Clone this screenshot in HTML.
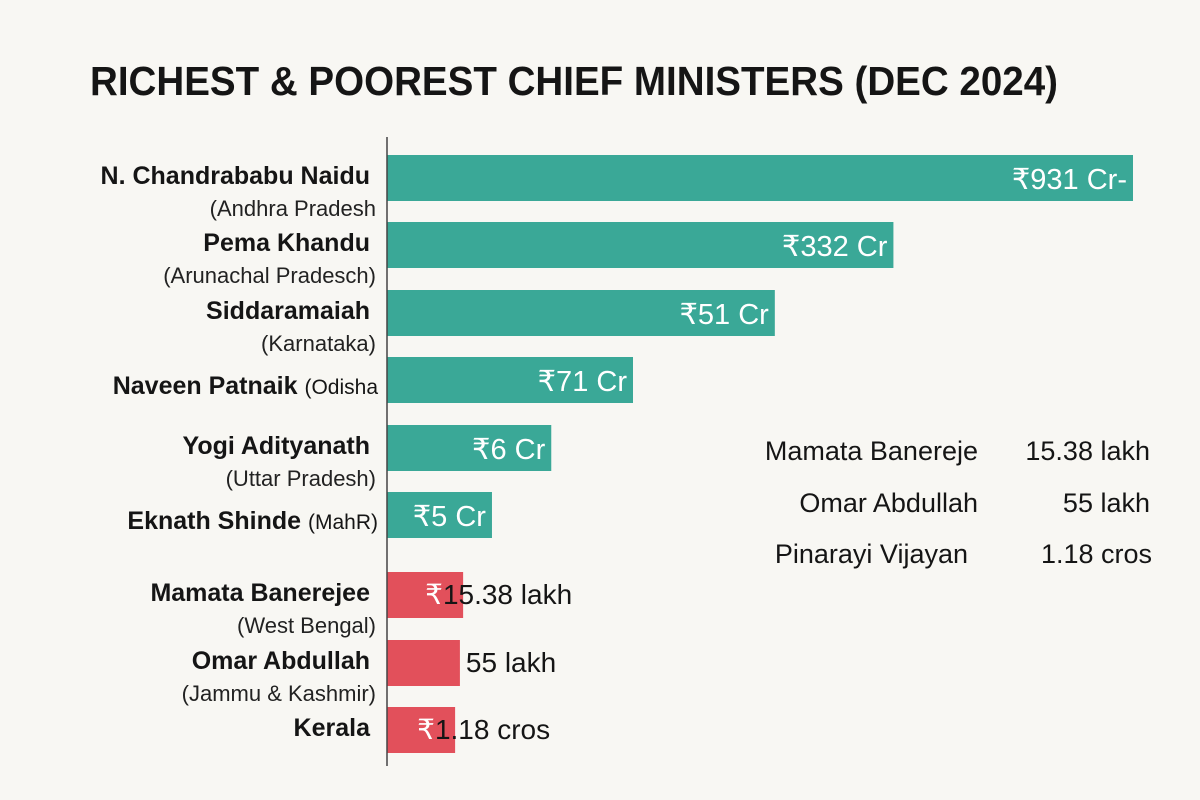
<!DOCTYPE html>
<html><head><meta charset="utf-8"><style>
html,body{margin:0;padding:0;background:#f8f7f3;}
svg{display:block;font-family:"Liberation Sans",sans-serif;}
</style></head><body>
<svg id="chart" width="1200" height="800" viewBox="0 0 1200 800">
<rect width="1200" height="800" fill="#f8f7f3"/>
<text x="90" y="95" font-size="41" font-weight="bold" fill="#151515" textLength="968" lengthAdjust="spacingAndGlyphs">RICHEST &amp; POOREST CHIEF MINISTERS (DEC 2024)</text>
<g id="bars"></g>
<line x1="387" y1="137" x2="387" y2="766" stroke="#444" stroke-width="1.5"/>
<g font-size="27" fill="#151515">
<text x="978" y="460" text-anchor="end">Mamata Banereje</text>
<text x="1150" y="460" text-anchor="end">15.38 lakh</text>
<text x="978" y="512" text-anchor="end">Omar Abdullah</text>
<text x="1150" y="512" text-anchor="end">55 lakh</text>
<text x="968" y="563" text-anchor="end">Pinarayi Vijayan</text>
<text x="1152" y="563" text-anchor="end">1.18 cros</text>
</g>
</svg>
<script>
const names = ["N. Chandrababu Naidu","Pema Khandu","Siddaramaiah","Naveen Patnaik","Yogi Adityanath","Eknath Shinde","Mamata Banerejee","Omar Abdullah","Kerala"];
const states = ["(Andhra Pradesh","(Arunachal Pradesch)","(Karnataka)","(Odisha","(Uttar Pradesh)","(MahR)","(West Bengal)","(Jammu & Kashmir)",""];
const barValues = [931,632,484,307,205,131,95,91,85];
const valueLabels = ["₹931 Cr-","₹332 Cr","₹51 Cr","₹71 Cr","₹6 Cr","₹5 Cr","15.38 lakh","55 lakh","1.18 cros"];
const rupeeShown = [true,true,true,true,true,true,true,false,true];
const groups = ["rich","rich","rich","rich","rich","rich","poor","poor","poor"];

const NS="http://www.w3.org/2000/svg";
const g=document.getElementById('bars');
const x0=387, scale=746/931;
const xScale=v=>x0+v*scale;
const barTops=[155,222,290,357,425,492,572,640,707];
const barH=46;
function mk(tag,attrs,txt){const e=document.createElementNS(NS,tag);for(const k in attrs)e.setAttribute(k,attrs[k]);if(txt!==undefined)e.textContent=txt;g.appendChild(e);return e;}
names.forEach((n,i)=>{
  const y=barTops[i], x1=xScale(barValues[i]);
  const rich=groups[i]==="rich";
  const r=mk('rect',{x:x0,y:y,width:x1-x0,height:barH,fill:rich?"#3aa897":"#e2505b"});
  
  
  const inline = (i===3||i===5);
  const nameY = inline ? y+37 : y+29;
  let nm;
  if(inline){
    nm=mk('text',{x:378,y:nameY,'text-anchor':'end','font-size':25,fill:'#151515'});
    const a=document.createElementNS(NS,'tspan');a.setAttribute('font-weight','bold');a.textContent=n+' ';nm.appendChild(a);
    const b=document.createElementNS(NS,'tspan');b.setAttribute('font-size','21');b.textContent=states[i];nm.appendChild(b);
  } else {
    nm=mk('text',{x:370,y:nameY,'text-anchor':'end','font-size':25,'font-weight':'bold',fill:'#151515'},n);
    if(states[i]){
      const s=mk('text',{x:376,y:nameY+32,'text-anchor':'end','font-size':22,fill:'#222'},states[i]);
      
      
    }
  }
  
  
  let vl;
  if(rich){
    vl=mk('text',{x:x1-6,y:y+34,'text-anchor':'end','font-size':29,fill:'#fff'},valueLabels[i]);
  } else if(rupeeShown[i]){
    vl=mk('text',{x:x1-38,y:y+32,'font-size':28,fill:'#151515'});
    const a=document.createElementNS(NS,'tspan');a.setAttribute('fill','#fff');a.textContent='₹';vl.appendChild(a);
    const b=document.createElementNS(NS,'tspan');b.textContent=valueLabels[i];vl.appendChild(b);
  } else {
    vl=mk('text',{x:x1+6,y:y+32,'font-size':28,fill:'#151515'},valueLabels[i]);
  }
  
  
});
</script>
</body></html>
